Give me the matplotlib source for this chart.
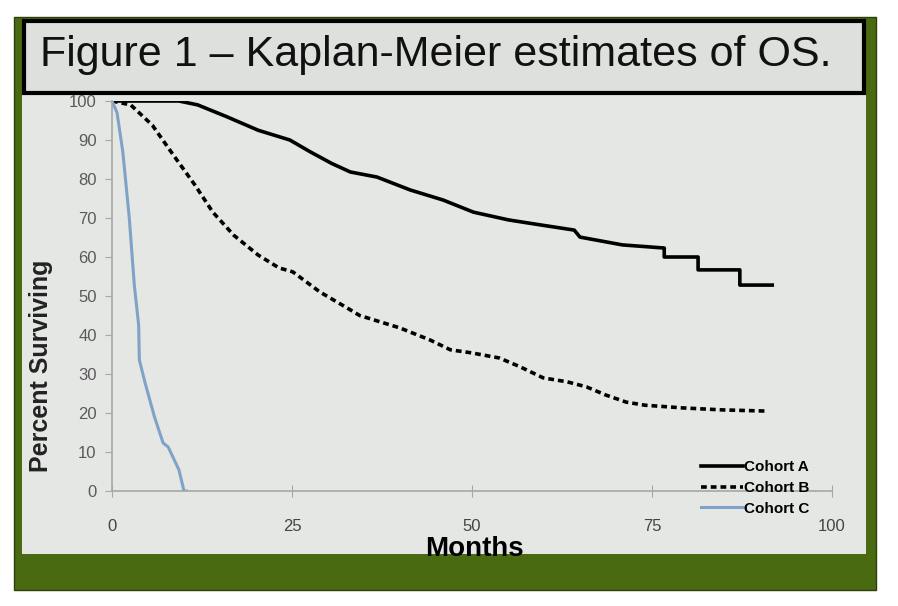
import matplotlib.pyplot as plt
from matplotlib.patches import Rectangle

# values (months, percent surviving)
months_a = [0, 9.3, 11.9, 15.9, 20.3, 24.7, 27.5, 30.5, 33.1, 36.8, 41.4, 46, 50.2, 55.1,
            59.6, 64.2, 65, 70.9, 76.7, 76.7, 81.4, 81.4, 87.2, 87.2, 91.7]
surv_a = [100, 100, 99, 96, 92.5, 90, 87, 84, 81.8, 80.5, 77.2, 74.6, 71.5, 69.5,
          68.2, 66.9, 65.1, 63.1, 62.3, 60, 60, 56.7, 56.7, 52.8, 52.8]

months_b = [0, 2.6, 5.6, 8.5, 11.5, 14, 16.9, 20.3, 23.2, 25.1, 28.9, 32.6, 34.4, 40, 44.2,
            47, 50, 53.8, 56.5, 59.9, 63.2, 65.9, 68.6, 71.4, 74, 79.3, 84.7, 90.8]
surv_b = [100, 99, 93.8, 86.2, 78.5, 71.5, 65.6, 60.5, 57.2, 56.2, 51, 47, 45, 41.8, 38.7,
          36.2, 35.4, 34.1, 32, 29, 28, 26.7, 24.6, 22.8, 22, 21.3, 20.8, 20.5]

months_c = [0, 0.7, 1.5, 2.4, 3.1, 3.7, 3.8, 4.6, 5.9, 7.1, 7.8, 9.3, 10, 10.3]
surv_c = [100, 97, 87, 70, 52.8, 42.6, 33.6, 27.7, 19, 12.3, 11.3, 5.4, 0, 0]

labels = ["Cohort A", "Cohort B", "Cohort C"]
x_ticks = [0, 25, 50, 75, 100]
y_ticks = list(range(0, 101, 10))
title = "Figure 1 \u2013 Kaplan-Meier estimates of OS."

W, H = 898, 606
fig = plt.figure(figsize=(W / 100, H / 100), dpi=100)
fig.patch.set_facecolor("white")

def px_rect(x0, y0, x1, y1, **kw):
    # rectangle given in image pixels (y from top)
    r = Rectangle((x0 / W, 1 - y1 / H), (x1 - x0) / W, (y1 - y0) / H,
                  transform=fig.transFigure, zorder=-5, **kw)
    fig.patches.append(r)

# slide frame
px_rect(14, 17, 876, 590, facecolor="#4a6a12", edgecolor="#2f3f0c", lw=1)
px_rect(22, 94, 866, 554, facecolor="#e5e7e5", edgecolor="none")
px_rect(24, 21, 864, 93, facecolor="#dde0dc", edgecolor="black", lw=3)

fig.text(436 / W, 1 - 55 / H, title, fontsize=31, family="Liberation Sans",
         ha="center", va="center", color="#111111")

ax = fig.add_axes([112 / W, 1 - 491 / H, 720 / W, 390 / H])
ax.set_facecolor("none")

ax.plot(months_a, surv_a, color="black", lw=2.6, label=labels[0])
ax.plot(months_b, surv_b, color="black", lw=2.6, ls=(0, (1.6, 1.1)), label=labels[1])
ax.plot(months_c, surv_c, color="#7fa3c6", lw=2.2, label=labels[2])

ax.set_xlim(0, 100)
ax.set_ylim(0, 100)
ax.set_xticks(x_ticks)
ax.set_yticks(y_ticks)
for s in ["top", "right"]:
    ax.spines[s].set_visible(False)
for s in ["left", "bottom"]:
    ax.spines[s].set_color("#a5a8a5")
    ax.spines[s].set_linewidth(1.2)
ax.tick_params(axis="y", direction="out", length=5, color="#a5a8a5",
               labelsize=12, labelcolor="#5a5a5a", pad=6)
ax.tick_params(axis="x", direction="inout", length=8, color="#a5a8a5",
               labelsize=12, labelcolor="#444444", pad=16)
for t in ax.get_xticklabels() + ax.get_yticklabels():
    t.set_family("Liberation Sans")

ax.set_xlabel("Months", fontsize=20, fontweight="bold", family="Liberation Sans",
              va="center")
ax.xaxis.set_label_coords(0.504, -0.148)
ax.set_ylabel("Percent Surviving", fontsize=18, fontweight="bold",
              family="Liberation Sans", va="center", color="#222222")
ax.yaxis.set_label_coords(-0.098, 0.32)

leg = ax.legend(loc="upper left", bbox_to_anchor=(0.81, 0.095), frameon=False,
                handlelength=2.7, handletextpad=0.1, labelspacing=0.45,
                borderaxespad=0, prop={"family": "Liberation Sans", "weight": "bold",
                                       "size": 11})

fig.savefig("out.png", dpi=100)
